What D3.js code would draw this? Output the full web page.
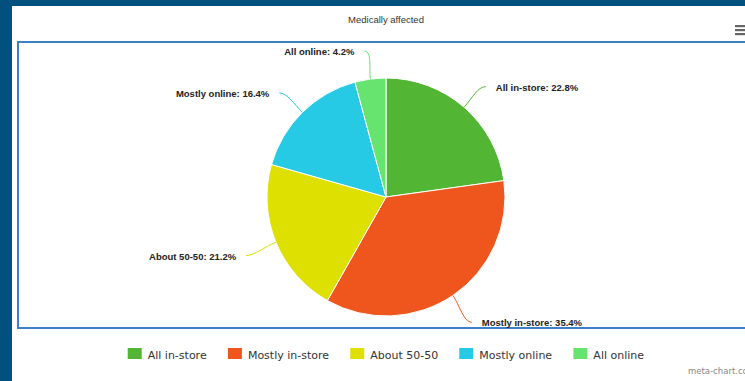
<!DOCTYPE html>
<html>
<head>
<meta charset="utf-8">
<script src="https://cdn.jsdelivr.net/npm/d3@7/dist/d3.min.js"></script>
<style>
  html, body { margin: 0; padding: 0; background: #01507e; }
  svg { display: block; }
</style>
</head>
<body>
<svg id="chart" width="745" height="381"></svg>
<script>
// Shopping habits of the medically affected group
const title = "Medically affected";
const categories = ["All in-store", "Mostly in-store", "About 50-50", "Mostly online", "All online"];
const values = [22.8, 35.4, 21.2, 16.4, 4.2];
const colors = ["#52b534", "#ef561d", "#dde000", "#26cae5", "#66e46f"];

const W = 745, H = 381;
const svg = d3.select("#chart");

// white card and framed plot area
svg.append("rect").attr("x", 12).attr("y", 6).attr("width", W - 12).attr("height", H - 6).attr("fill", "#ffffff");
svg.append("rect").attr("x", 18).attr("y", 42).attr("width", W).attr("height", 286)
  .attr("fill", "none").attr("stroke", "#3b80c8").attr("stroke-width", 2);

// title
svg.append("text").attr("x", 386).attr("y", 23).attr("text-anchor", "middle")
  .attr("font-family", "Liberation Sans, Arial, sans-serif").attr("font-size", 9.5)
  .attr("fill", "#333").text(title);

// menu icon
const menu = svg.append("g").attr("fill", "#666");
[25, 29, 33].forEach(y => menu.append("rect").attr("x", 735).attr("y", y).attr("width", 12).attr("height", 2.2));

// pie
const cx = 386, cy = 197, r = 119;
const data = categories.map((c, i) => ({ name: c, value: values[i], color: colors[i] }));
const pie = d3.pie().value(d => d.value).sort(null);
const arc = d3.arc().innerRadius(0).outerRadius(r);
const arcs = pie(data);

const g = svg.append("g").attr("transform", `translate(${cx},${cy})`);
g.selectAll("path.slice").data(arcs).join("path")
  .attr("class", "slice")
  .attr("d", arc)
  .attr("fill", d => d.data.color)
  .attr("stroke", "#ffffff").attr("stroke-width", 1);

// labels with soft connectors
const dist = 30;
arcs.forEach(a => {
  const m = (a.startAngle + a.endAngle) / 2;
  const sx = Math.sin(m), sy = -Math.cos(m);
  const right = sx >= 0;
  const dir = right ? 1 : -1;
  const x0 = sx * r, y0 = sy * r;
  const x1 = sx * (r + 12), y1 = sy * (r + 12);
  const ex = sx * (r + dist) + dir * 2, ey = sy * (r + dist) + 2;
  const path = d3.path();
  path.moveTo(x0, y0);
  path.bezierCurveTo(x1, y1, ex - dir * 8, ey, ex, ey);
  g.append("path").attr("d", path.toString()).attr("fill", "none")
    .attr("stroke", a.data.color).attr("stroke-width", 1);
  g.append("text")
    .attr("x", ex + dir * 10).attr("y", ey + 4)
    .attr("text-anchor", right ? "start" : "end")
    .attr("font-family", "Liberation Sans, Arial, sans-serif")
    .attr("font-size", 9.5).attr("font-weight", "bold").attr("fill", "#222")
    .text(`${a.data.name}: ${a.data.value}%`);
});

// legend
const legend = svg.append("g");
const items = legend.selectAll("g").data(data).join("g");
items.append("rect").attr("width", 14).attr("height", 11).attr("y", -6).attr("fill", d => d.color);
items.append("text").attr("x", 20).attr("y", 4.5)
  .attr("font-family", "DejaVu Sans, Verdana, sans-serif").attr("font-size", 11)
  .attr("fill", "#333").text(d => d.name);
let xoff = 0;
items.each(function () {
  const w = this.getBBox().width;
  d3.select(this).attr("transform", `translate(${xoff},0)`);
  xoff += w + 21;
});
const total = xoff - 21;
legend.attr("transform", `translate(${386 - total / 2},354)`);

// credit
svg.append("text").attr("x", 688).attr("y", 374)
  .attr("font-family", "DejaVu Sans, Verdana, sans-serif").attr("font-size", 8.5)
  .attr("fill", "#888").text("meta-chart.com");
</script>
</body>
</html>
